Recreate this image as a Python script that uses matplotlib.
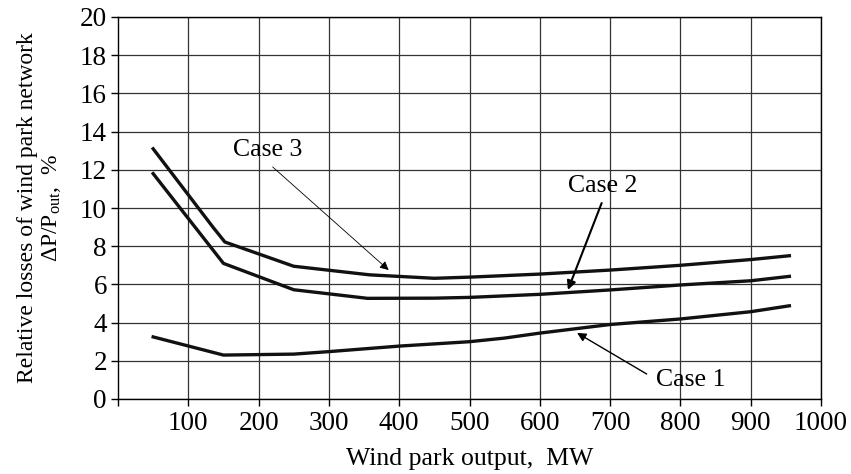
import matplotlib
matplotlib.use("Agg")
import matplotlib.pyplot as plt

# Wind park output (MW) and relative losses (%)
case1_x = [50, 150, 250, 300, 400, 500, 550, 600, 700, 800, 900, 955]
case1_y = [3.25, 2.3, 2.35, 2.48, 2.77, 3.0, 3.19, 3.45, 3.9, 4.19, 4.57, 4.88]

case2_x = [50, 150, 250, 355, 450, 500, 600, 700, 800, 900, 955]
case2_y = [11.8, 7.1, 5.72, 5.27, 5.28, 5.32, 5.48, 5.71, 5.97, 6.19, 6.42]

case3_x = [50, 135, 152, 250, 358, 450, 500, 600, 700, 800, 900, 955]
case3_y = [13.1, 9.0, 8.22, 6.95, 6.5, 6.32, 6.38, 6.54, 6.75, 7.0, 7.3, 7.5]

x_ticks = [100, 200, 300, 400, 500, 600, 700, 800, 900, 1000]
y_ticks = [0, 2, 4, 6, 8, 10, 12, 14, 16, 18, 20]

# labels: text position, arrow tail, arrow head (data units)
labels = ["Case 3", "Case 2", "Case 1"]
label_pos = [(213, 13.05), (690, 11.15), (814, 1.0)]
arrow_tail = [(220, 12.15), (688, 10.26), (752, 1.31)]
arrow_head = [(385, 6.75), (640, 5.71), (653, 3.46)]
arrow_lw = [0.6, 1.5, 1.0]

plt.rcParams["font.family"] = ["Liberation Serif", "DejaVu Serif"]
plt.rcParams["mathtext.fontset"] = "custom"
plt.rcParams["mathtext.rm"] = "Liberation Serif"
plt.rcParams["mathtext.it"] = "Liberation Serif:italic"

tick_fs = 19.5
text_fs = 18.5
ylab_fs = 17
fig = plt.figure(figsize=(8.51, 4.74), dpi=100)
ax = fig.add_axes([118 / 851, 1 - 399 / 474, 703 / 851, 382 / 474])

ax.set_xlim(0, 1000)
ax.set_ylim(0, 20)
ax.set_xticks(x_ticks)
ax.set_yticks(y_ticks)
ax.grid(True, color="#333333", linewidth=0.9)
ax.set_axisbelow(True)
for sp in ax.spines.values():
    sp.set_linewidth(1.0)
ax.tick_params(direction="out", length=5, width=1, labelsize=tick_fs, pad=3)
ax.tick_params(axis="x", pad=4)
ax.set_xticks([0], minor=True)
ax.tick_params(which="minor", direction="out", length=5, width=1)

lw = 2.4
ax.plot(case1_x, case1_y, color="#111111", linewidth=lw, solid_joinstyle="round")
ax.plot(case2_x, case2_y, color="#111111", linewidth=lw, solid_joinstyle="round")
ax.plot(case3_x, case3_y, color="#111111", linewidth=lw, solid_joinstyle="round")

# annotations
for txt, pos, tail, head, alw in zip(labels, label_pos, arrow_tail, arrow_head, arrow_lw):
    ax.text(pos[0], pos[1], txt, fontsize=text_fs, ha="center", va="center")
    ax.annotate("", xy=head, xytext=tail,
                arrowprops=dict(arrowstyle="-|>", color="black", lw=alw,
                                mutation_scale=13, shrinkA=0, shrinkB=0))

ax.set_xlabel("Wind park output,  MW", fontsize=text_fs, labelpad=8)
ax.set_ylabel("Relative losses of wind park network\n" + r"ΔP/P$_{\rm out}$,  %",
              fontsize=ylab_fs, labelpad=12, linespacing=1.15)

fig.savefig("out.png", dpi=100)
